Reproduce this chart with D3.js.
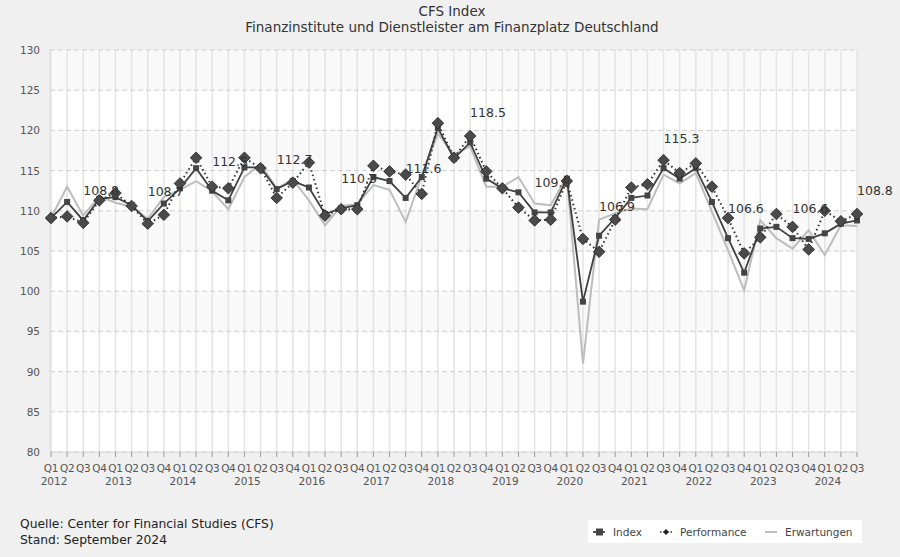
<!DOCTYPE html>
<html><head><meta charset="utf-8">
<script src="https://cdn.jsdelivr.net/npm/d3@7"></script>
<style>
html,body{margin:0;padding:0;background:#f0f0f0;}
svg{display:block;font-family:"DejaVu Sans",sans-serif;}
</style></head>
<body><svg id="c" width="900" height="557"></svg>
<script>
const years = [2012,2013,2014,2015,2016,2017,2018,2019,2020,2021,2022,2023,2024];
const quarterNames = ["Q1","Q2","Q3","Q4"];
const yTicks = [80,85,90,95,100,105,110,115,120,125,130];
const indexValues = [109.1,111.1,108.8,111.5,111.7,110.7,108.7,110.9,112.8,115.3,112.5,111.3,115.4,115.4,112.7,113.7,112.9,109.6,110.3,110.7,114.2,113.7,111.6,114.2,120.3,116.5,118.5,114.0,112.8,112.3,109.8,109.8,114.0,98.7,106.9,109.1,111.6,111.9,115.3,114.0,115.3,111.1,106.6,102.3,107.8,108.0,106.6,106.5,107.2,108.4,108.8];
const performanceValues = [109.1,109.3,108.5,111.3,112.2,110.6,108.4,109.5,113.4,116.6,113.0,112.8,116.6,115.3,111.6,113.5,116.0,109.4,110.2,110.2,115.6,114.9,114.5,112.1,120.9,116.6,119.3,114.9,112.8,110.4,108.8,108.9,113.7,106.5,104.9,108.9,112.9,113.3,116.3,114.7,115.9,113.0,109.1,104.7,106.7,109.6,108.0,105.2,110.0,108.7,109.6];
const expectationValues = [109.1,113.0,109.4,111.8,111.0,110.5,109.0,111.7,112.6,113.7,112.4,110.2,114.2,115.8,112.8,113.9,111.3,108.2,110.6,110.8,113.2,112.6,108.6,114.3,119.6,117.0,118.0,113.0,113.0,114.2,110.9,110.7,114.3,91.0,108.9,109.7,110.3,110.2,114.5,113.4,114.7,109.9,105.1,100.1,108.8,106.6,105.3,107.6,104.5,108.2,108.1];
const seriesNames = ["Index","Performance","Erwartungen"];
const title = "CFS Index";
const subtitle = "Finanzinstitute und Dienstleister am Finanzplatz Deutschland";
const footer = ["Quelle: Center for Financial Studies (CFS)","Stand: September 2024"];

const periods = [];
years.forEach(y => quarterNames.forEach(q => periods.push({year:y, q:q})));
const n = indexValues.length;
const per = periods.slice(0, n);

const svg = d3.select("#c");
const L = 51, R = 857, T = 50, B = 452;
const x = d3.scalePoint().domain(d3.range(n)).range([L, R]);
const y = d3.scaleLinear().domain([80,130]).range([B, T]);

// titles
svg.append("text").attr("x",452).attr("y",16).attr("text-anchor","middle")
  .attr("font-size",13.5).attr("fill","#333").text(title);
svg.append("text").attr("x",452).attr("y",32).attr("text-anchor","middle")
  .attr("font-size",13.5).attr("fill","#333").text(subtitle);

// plot background
svg.append("rect").attr("x",L-1).attr("y",T).attr("width",R-L+1).attr("height",B-T).attr("fill","#fff");
for (let k = 0; k < yTicks.length-1; k++) {
  if ((yTicks.length-2-k) % 2 === 0) {
    svg.append("rect").attr("x",L-1).attr("width",R-L+1)
      .attr("y", y(yTicks[k+1])).attr("height", y(yTicks[k]) - y(yTicks[k+1]))
      .attr("fill","#f9f9f9");
  }
}
// vertical grid
svg.append("g").selectAll("line").data(d3.range(n)).join("line")
  .attr("x1",d=>x(d)).attr("x2",d=>x(d)).attr("y1",T).attr("y2",B)
  .attr("stroke","#e4e4e4").attr("stroke-width",1.5);
// horizontal grid
svg.append("g").selectAll("line").data(yTicks).join("line")
  .attr("x1",L-1).attr("x2",R).attr("y1",d=>y(d)).attr("y2",d=>y(d))
  .attr("stroke","#cfcfcf").attr("stroke-width",1).attr("stroke-dasharray","5,3");
svg.append("line").attr("x1",L-1).attr("x2",L-1).attr("y1",T).attr("y2",B).attr("stroke","#dcdcdc");
svg.append("line").attr("x1",L-1).attr("x2",R).attr("y1",B).attr("y2",B).attr("stroke","#d8d8d8");
svg.append("g").selectAll("line").data(d3.range(n)).join("line")
  .attr("x1",d=>x(d)).attr("x2",d=>x(d)).attr("y1",B).attr("y2",B+5)
  .attr("stroke","#999").attr("stroke-width",1);

// y labels
svg.append("g").selectAll("text").data(yTicks).join("text")
  .attr("x",40).attr("y",d=>y(d)+4).attr("text-anchor","end")
  .attr("font-size",10.5).attr("fill","#555").text(d=>d);

// x labels
svg.append("g").selectAll("text").data(per).join("text")
  .attr("x",(d,i)=>x(i)).attr("y",B+20).attr("text-anchor","middle")
  .attr("font-size",10.5).attr("fill","#555").attr("letter-spacing","-0.3").text(d=>d.q);
svg.append("g").selectAll("text").data(per.map((d,i)=>({d,i})).filter(o=>o.d.q==="Q1")).join("text")
  .attr("x",o=>x(o.i)+3).attr("y",B+33).attr("text-anchor","middle")
  .attr("font-size",10.5).attr("fill","#555").text(o=>o.d.year);

// lines
const line = d3.line().x((d,i)=>x(i)).y(d=>y(d));
svg.append("path").datum(expectationValues).attr("d",line).attr("fill","none")
  .attr("stroke","#bdbdbd").attr("stroke-width",2);
svg.append("path").datum(indexValues).attr("d",line).attr("fill","none")
  .attr("stroke","#404040").attr("stroke-width",1.8);
svg.append("path").datum(performanceValues).attr("d",line).attr("fill","none")
  .attr("stroke","#333").attr("stroke-width",2).attr("stroke-dasharray","1.5,3");

// markers
svg.append("g").selectAll("rect").data(indexValues).join("rect")
  .attr("x",(d,i)=>x(i)-3).attr("y",d=>y(d)-3).attr("width",6).attr("height",6)
  .attr("fill","#444");
const dia = 5.8;
svg.append("g").selectAll("path").data(performanceValues).join("path")
  .attr("d",(d,i)=>{const cx=x(i), cy=y(d); return `M${cx},${cy-dia}L${cx+dia},${cy}L${cx},${cy+dia}L${cx-dia},${cy}Z`;})
  .attr("fill","#4a4a4a").attr("stroke","#222").attr("stroke-width",0.8);

// value labels (Q3 of each year, index value)
const lab = per.map((d,i)=>({d,i})).filter(o=>o.d.q==="Q3");
svg.append("g").selectAll("text").data(lab).join("text")
  .attr("x",o=>x(o.i)).attr("y",o=>y(indexValues[o.i])-25)
  .attr("text-anchor","start")
  .attr("font-size",12.5).attr("fill","#333").text(o=>indexValues[o.i].toFixed(1));

// footer
footer.forEach((t,k)=>svg.append("text").attr("x",20).attr("y",528+k*16)
  .attr("font-size",12.3).attr("fill","#222").text(t));

// legend
const lg = svg.append("g");
lg.append("rect").attr("x",588).attr("y",520).attr("width",274).attr("height",23).attr("fill","#fff");
const ly = 532;
lg.append("line").attr("x1",593).attr("x2",605).attr("y1",ly).attr("y2",ly).attr("stroke","#404040").attr("stroke-width",1.8);
lg.append("rect").attr("x",596).attr("y",ly-3.5).attr("width",7).attr("height",7).attr("fill","#444");
lg.append("text").attr("x",613).attr("y",ly+4).attr("font-size",10.5).attr("fill","#444").text(seriesNames[0]);
lg.append("line").attr("x1",660).attr("x2",672).attr("y1",ly).attr("y2",ly).attr("stroke","#333").attr("stroke-width",1.5).attr("stroke-dasharray","1.5,2");
lg.append("path").attr("d",`M666,${ly-3}L669,${ly}L666,${ly+3}L663,${ly}Z`).attr("fill","#222");
lg.append("text").attr("x",680).attr("y",ly+4).attr("font-size",10.5).attr("fill","#444").text(seriesNames[1]);
lg.append("line").attr("x1",765).attr("x2",777).attr("y1",ly).attr("y2",ly).attr("stroke","#bdbdbd").attr("stroke-width",2);
lg.append("text").attr("x",785).attr("y",ly+4).attr("font-size",10.5).attr("fill","#444").text(seriesNames[2]);
</script></body></html>
